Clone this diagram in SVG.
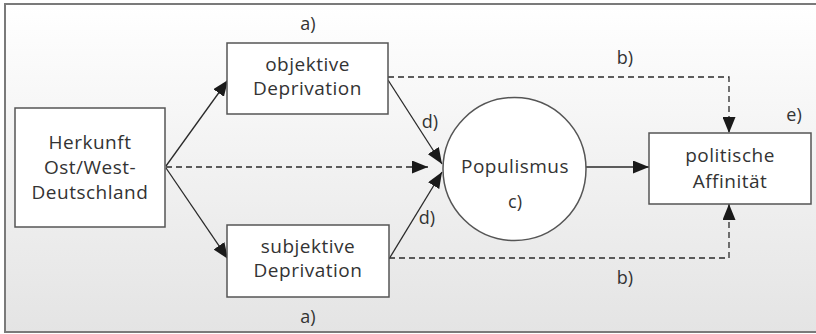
<svg xmlns="http://www.w3.org/2000/svg" width="816" height="334" viewBox="0 0 816 334">
<defs>
<linearGradient id="bg" x1="0" y1="0" x2="0" y2="1">
<stop offset="0" stop-color="#ffffff"/>
<stop offset="1" stop-color="#e4e4e4"/>
</linearGradient>
<marker id="ah" markerUnits="userSpaceOnUse" markerWidth="17" markerHeight="13" refX="16" refY="6.5" orient="auto">
<path d="M0,0 L16,6.5 L0,13 z" fill="#1a1a1a"/>
</marker>
</defs>
<style>
.box{fill:#fff;stroke:#555;stroke-width:1.5}
.t{font-family:"Open Sans","Noto Sans",sans-serif;font-size:19px;fill:#333;text-anchor:middle;letter-spacing:0.5px}
.lab{font-family:"Open Sans","Noto Sans",sans-serif;font-size:18px;fill:#333;text-anchor:middle}
.ln{stroke:#2a2a2a;stroke-width:1.3;fill:none;marker-end:url(#ah)}
.dash{stroke-dasharray:6 4}
</style>
<rect x="5" y="4" width="820" height="328" fill="url(#bg)" stroke="#7a7a7a" stroke-width="2"/>
<g id="connectors">
<line class="ln" x1="166" y1="166" x2="228" y2="80"/>
<line class="ln" x1="166" y1="168" x2="228" y2="259"/>
<line class="ln dash" x1="166" y1="167" x2="428" y2="167"/>
<line class="ln" x1="388" y1="80" x2="442" y2="164"/>
<line class="ln" x1="389" y1="259" x2="442" y2="172"/>
<path class="ln dash" d="M388,77 H729 V133"/>
<path class="ln dash" d="M389,258 H729 V204"/>
<line class="ln" x1="586" y1="167" x2="649" y2="167"/>
</g>
<g id="herkunft">
<rect class="box" x="15" y="108" width="150" height="119"/>
<text class="t" x="90" y="149">Herkunft</text>
<text class="t" x="90" y="174">Ost/West-</text>
<text class="t" x="90" y="199">Deutschland</text>
</g>
<g id="objektiv">
<rect class="box" x="227" y="43" width="161" height="71"/>
<text class="t" x="307.5" y="71">objektive</text>
<text class="t" x="307.5" y="95">Deprivation</text>
</g>
<g id="subjektiv">
<rect class="box" x="227" y="225" width="162" height="72"/>
<text class="t" x="308" y="253">subjektive</text>
<text class="t" x="308" y="277">Deprivation</text>
</g>
<g id="populismus">
<circle cx="514.5" cy="169" r="71.5" fill="#fff" stroke="#555" stroke-width="1.5"/>
<text class="t" x="515" y="173">Populismus</text>
<text class="lab" x="515" y="208">c)</text>
</g>
<g id="affinitaet">
<rect class="box" x="649" y="133" width="162" height="71"/>
<text class="t" x="730" y="162">politische</text>
<text class="t" x="730" y="188">Affinität</text>
</g>
<g id="labels">
<text class="lab" x="308" y="30">a)</text>
<text class="lab" x="308" y="323">a)</text>
<text class="lab" x="625" y="64">b)</text>
<text class="lab" x="625" y="284">b)</text>
<text class="lab" x="794" y="121">e)</text>
<text class="lab" x="430" y="128">d)</text>
<text class="lab" x="427" y="224">d)</text>
</g>
</svg>
